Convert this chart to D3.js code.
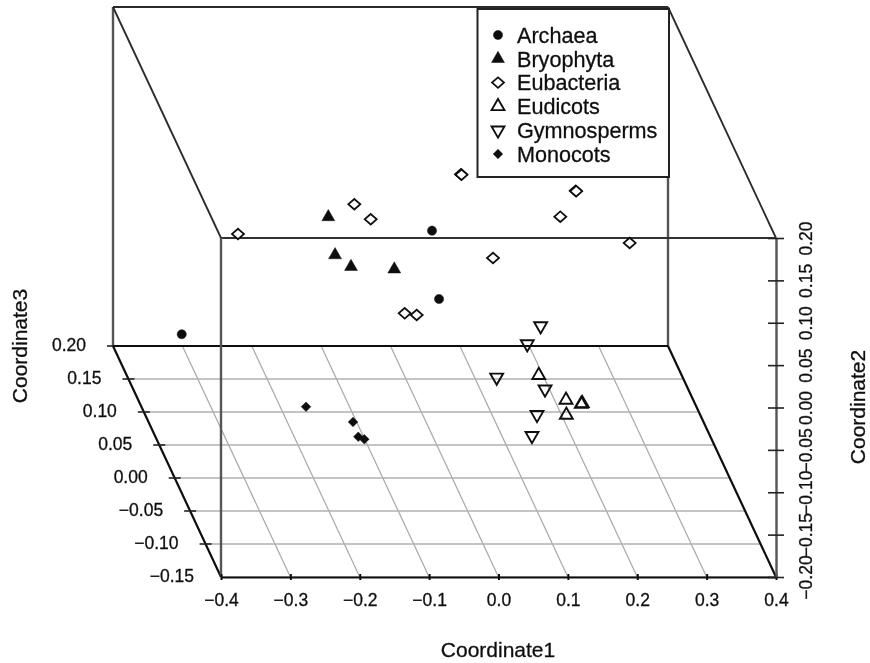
<!DOCTYPE html>
<html>
<head>
<meta charset="utf-8">
<script src="https://cdn.jsdelivr.net/npm/d3@7"></script>
<style>
  html, body { margin: 0; padding: 0; background: #fff; }
  svg { display: block; }
  text { font-family: "Liberation Sans", Arial, sans-serif; fill: #111; stroke: #111; stroke-width: 0.3px; }
</style>
</head>
<body>
<svg width="870" height="663"></svg>
<script>
// Tick labels on the three axes
const ticksC1 = [-0.4, -0.3, -0.2, -0.1, 0.0, 0.1, 0.2, 0.3, 0.4];
const ticksC2 = [-0.20, -0.15, -0.10, -0.05, 0.00, 0.05, 0.10, 0.15, 0.20];
const ticksC3 = [-0.15, -0.10, -0.05, 0.00, 0.05, 0.10, 0.15, 0.20];

// Values. A flat picture can't give the depth of a point,
// so every point is taken at Coordinate3 = 0 and c1/c2 are read on that plane.
const depthC3 = 0;

const archaeaC1 = [-0.3899, -0.0291, -0.0190];
const archaeaC2 = [-0.0304, 0.0918, 0.0112];

const bryophytaC1 = [-0.1786, -0.1689, -0.1459, -0.0835];
const bryophytaC2 = [0.1080, 0.0631, 0.0493, 0.0463];

// the heavy looking markers in the picture are two points nearly on top of each other
const eubacteriaC1 = [-0.3088, -0.1411, -0.1175, 0.0127, 0.0134, -0.0685, -0.0512, 0.1780, 0.1787, 0.1558, 0.2558, 0.0588];
const eubacteriaC2 = [0.0879, 0.1230, 0.1053, 0.1584, 0.1578, -0.0057, -0.0077, 0.1390, 0.1384, 0.1083, 0.0773, 0.0596];

const eudicotsC1 = [0.1247, 0.1640, 0.1860, 0.1874, 0.1645];
const eudicotsC2 = [-0.0788, -0.1080, -0.1127, -0.1120, -0.1257];

const gymnospermsC1 = [0.1275, 0.1082, 0.0641, 0.1338, 0.1222, 0.1150];
const gymnospermsC2 = [-0.0206, -0.0419, -0.0812, -0.0953, -0.1253, -0.1501];

const monocotsC1 = [-0.2107, -0.1430, -0.1354, -0.1267];
const monocotsC2 = [-0.1159, -0.1339, -0.1513, -0.1543];

const groupNames = ["Archaea", "Bryophyta", "Eubacteria", "Eudicots", "Gymnosperms", "Monocots"];

const svg = d3.select("svg");

// soft edge of the scanned original
const defs = svg.append("defs");
defs.append("filter").attr("id", "scan")
  .attr("x", 0).attr("y", 0).attr("width", 1).attr("height", 1)
  .attr("filterUnits", "objectBoundingBox")
  .append("feGaussianBlur").attr("stdDeviation", 0.5);

const chart = svg.append("g").attr("filter", "url(#scan)");
chart.append("rect").attr("width", 870).attr("height", 663).attr("fill", "#fff");

// Front face scales + oblique shift for the depth axis
const x = d3.scaleLinear().domain([-0.4, 0.4]).range([221, 776]);
const y = d3.scaleLinear().domain([-0.2, 0.2]).range([577, 238]);
const shiftX = d3.scaleLinear().domain([-0.15, 0.20]).range([0, -108]);
const shiftY = d3.scaleLinear().domain([-0.15, 0.20]).range([0, -231]);

const project = (c1, c2, c3) => [x(c1) + shiftX(c3), y(c2) + shiftY(c3)];

const line = d3.line();
const drawLine = (a, b, color, width) => chart.append("path")
  .attr("d", line([a, b]))
  .attr("fill", "none")
  .attr("stroke", color)
  .attr("stroke-width", width);

const c1Min = -0.4, c1Max = 0.4, c2Min = -0.2, c2Max = 0.2, c3Min = -0.15, c3Max = 0.20;

// Floor grid
ticksC1.forEach(t => drawLine(project(t, c2Min, c3Min), project(t, c2Min, c3Max), "#a8a8a8", 1.2));
ticksC3.forEach(t => drawLine(project(c1Min, c2Min, t), project(c1Max, c2Min, t), "#b0b0b0", 1.5));

// Back and side edges of the box
const frame = "#2a2a2a";
drawLine(project(c1Min, c2Max, c3Max), project(c1Max, c2Max, c3Max), frame, 2);
drawLine(project(c1Min, c2Min, c3Max), project(c1Min, c2Max, c3Max), "#555", 2.4);
drawLine(project(c1Max, c2Min, c3Max), project(c1Max, c2Max, c3Max), "#555", 2.4);
drawLine(project(c1Min, c2Max, c3Min), project(c1Min, c2Max, c3Max), frame, 1.8);
drawLine(project(c1Max, c2Max, c3Min), project(c1Max, c2Max, c3Max), frame, 1.8);
drawLine(project(c1Min, c2Min, c3Min), project(c1Min, c2Min, c3Max), "#111", 2.2);
drawLine(project(c1Max, c2Min, c3Min), project(c1Max, c2Min, c3Max), "#111", 2.2);
drawLine(project(c1Min, c2Min, c3Max), project(c1Max, c2Min, c3Max), "#111", 2);

// Front face
drawLine(project(c1Min, c2Max, c3Min), project(c1Max, c2Max, c3Min), "#333", 2);
drawLine(project(c1Min, c2Min, c3Min), project(c1Min, c2Max, c3Min), "#555", 2.4);

// Coordinate1 axis
const xAxis = chart.append("g")
  .attr("transform", "translate(0,577)")
  .call(d3.axisBottom(x).tickValues(ticksC1).tickFormat(d3.format(".1f")).tickSize(3).tickSizeOuter(0).tickPadding(14));
xAxis.select(".domain").attr("stroke", "#111").attr("stroke-width", 2);
xAxis.selectAll(".tick line").attr("y1", -3).attr("stroke", "#111").attr("stroke-width", 2);
xAxis.selectAll("text").attr("font-size", 17.5).attr("fill", "#111");

// Coordinate2 axis, on the right of the front face
const yAxis = chart.append("g")
  .attr("transform", "translate(776,0)")
  .call(d3.axisRight(y).tickValues(ticksC2).tickFormat(d3.format(".2f")).tickSize(8).tickSizeOuter(0));
yAxis.select(".domain").attr("stroke", "#555").attr("stroke-width", 2.4);
yAxis.selectAll(".tick line").attr("x1", -8).attr("stroke", "#222").attr("stroke-width", 1.6);
yAxis.selectAll("text")
  .attr("font-size", 17.5)
  .attr("fill", "#111")
  .attr("transform", "rotate(-90)")
  .attr("x", 0)
  .attr("y", 30)
  .attr("dy", "0.32em")
  .attr("text-anchor", "middle");

// Coordinate3 axis runs along the slanted left edge of the floor
const zFormat = d3.format(".2f");
ticksC3.forEach(t => {
  const p = project(c1Min, c2Min, t);
  if (t !== c3Min && t !== c3Max) drawLine([p[0] - 6, p[1]], [p[0] + 6, p[1]], "#222", 1.6);
  if (t === c3Max) drawLine([p[0] - 6, p[1]], p, "#222", 1.6);
  chart.append("text")
    .attr("x", p[0] - 27)
    .attr("y", p[1] - 1)
    .attr("dy", "0.35em")
    .attr("text-anchor", "end")
    .attr("font-size", 17.5)
    .text(zFormat(t));
});

// Axis titles
chart.append("text").attr("x", 498).attr("y", 657).attr("text-anchor", "middle")
  .attr("font-size", 21).text("Coordinate1");
chart.append("text").attr("transform", "translate(865,407) rotate(-90)").attr("text-anchor", "middle")
  .attr("font-size", 21).text("Coordinate2");
chart.append("text").attr("transform", "translate(27,346) rotate(-90)").attr("text-anchor", "middle")
  .attr("font-size", 21).text("Coordinate3");

// Marker for each group
const ink = "#111";
const markers = {
  Archaea: { path: d3.symbol(d3.symbolCircle, 66)(), turn: "", fill: ink },
  Bryophyta: { path: d3.symbol(d3.symbolTriangle, 72)(), turn: "", fill: ink },
  Eubacteria: { path: d3.symbol(d3.symbolSquare, 72)(), turn: "scale(1,0.88) rotate(45)", fill: "#fff" },
  Eudicots: { path: d3.symbol(d3.symbolTriangle, 72)(), turn: "", fill: "none" },
  Gymnosperms: { path: d3.symbol(d3.symbolTriangle, 72)(), turn: "rotate(180)", fill: "none" },
  Monocots: { path: d3.symbol(d3.symbolSquare, 46)(), turn: "rotate(45)", fill: ink }
};

const drawMarker = (g, name, px, py) => {
  const m = markers[name];
  g.append("path")
    .attr("d", m.path)
    .attr("transform", `translate(${px},${py}) ${m.turn}`)
    .attr("fill", m.fill)
    .attr("stroke", ink)
    .attr("stroke-width", m.fill === ink ? 0.5 : 1.9);
};

const groups = [
  ["Archaea", archaeaC1, archaeaC2],
  ["Bryophyta", bryophytaC1, bryophytaC2],
  ["Eubacteria", eubacteriaC1, eubacteriaC2],
  ["Eudicots", eudicotsC1, eudicotsC2],
  ["Gymnosperms", gymnospermsC1, gymnospermsC2],
  ["Monocots", monocotsC1, monocotsC2]
];

const points = chart.append("g");
groups.forEach(([name, c1s, c2s]) => {
  c1s.forEach((c1, i) => {
    const p = project(c1, c2s[i], depthC3);
    drawMarker(points, name, p[0], p[1]);
  });
});

// Legend
const legend = chart.append("g");
legend.append("rect")
  .attr("x", 477.5).attr("y", 9).attr("width", 191.5).attr("height", 168)
  .attr("fill", "#fff").attr("stroke", "#222").attr("stroke-width", 2);
const legendRows = d3.scalePoint().domain(groupNames).range([35, 154]);
groupNames.forEach(name => {
  drawMarker(legend, name, 498, legendRows(name));
  legend.append("text")
    .attr("x", 517)
    .attr("y", legendRows(name))
    .attr("dy", "0.36em")
    .attr("font-size", 21.6)
    .text(name);
});
</script>
</body>
</html>
